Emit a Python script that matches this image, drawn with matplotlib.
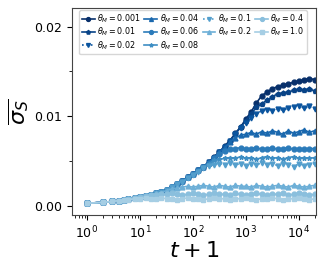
import numpy as np
import matplotlib.pyplot as plt
from matplotlib.ticker import MultipleLocator

# t + 1 sample points
t_plus_1 = [1, 2, 3, 4, 5, 6, 8, 10, 13, 16, 20, 25, 32, 40, 50, 63, 80, 100,
            126, 158, 200, 251, 316, 398, 501, 631, 794, 1000, 1259, 1585, 1995,
            2512, 3162, 3981, 5012, 6310, 7943, 10000, 12589, 15849, 19953]

theta_m = ["0.001", "0.01", "0.02", "0.04", "0.06", "0.08", "0.1", "0.2", "0.4", "1.0"]

# sigma_S values, in units of 1e-4
s_0001 = [3, 4, 5, 6, 7, 8, 9, 10, 11, 12, 14, 16, 18, 21, 25, 28, 32, 36,
          40, 44, 49, 55, 60, 67, 73, 81, 88, 97, 105, 115, 123, 127, 131, 133,
          135, 136, 138, 139, 141, 142, 141]
s_001 = [3, 4, 5, 6, 7, 8, 9, 10, 11, 12, 14, 16, 18, 21, 24, 28, 32, 36,
         40, 44, 48, 54, 60, 66, 73, 80, 88, 95, 103, 110, 114, 118, 122, 125,
         126, 127, 129, 130, 129, 131, 128]
s_002 = [3, 4, 5, 6, 7, 8, 9, 10, 11, 12, 14, 16, 18, 21, 25, 28, 32, 36,
         40, 44, 49, 54, 60, 66, 72, 80, 87, 93, 98, 103, 106, 107, 106, 108,
         107, 109, 110, 112, 109, 111, 108]
s_004 = [3, 4, 5, 6, 7, 8, 9, 10, 11, 12, 14, 16, 18, 21, 24, 28, 32, 36,
         40, 44, 48, 54, 60, 65, 71, 76, 79, 80, 82, 80, 83, 81, 84, 82,
         80, 84, 81, 83, 85, 82, 84]
s_006 = [3, 4, 5, 6, 7, 8, 9, 10, 11, 12, 14, 16, 18, 21, 24, 28, 32, 36,
         40, 44, 48, 53, 58, 61, 63, 64, 65, 63, 64, 65, 63, 64, 65, 63,
         64, 65, 63, 64, 63, 64, 64]
s_008 = [3, 4, 5, 6, 7, 8, 9, 10, 11, 12, 14, 16, 18, 21, 24, 28, 31, 35,
         39, 43, 47, 51, 52, 53, 54, 53, 55, 53, 54, 52, 54, 55, 53, 54,
         52, 54, 55, 53, 54, 53, 54]
s_01 = [3, 4, 5, 6, 7, 8, 9, 10, 11, 12, 14, 16, 18, 21, 24, 27, 31, 35,
        38, 42, 45, 46, 47, 46, 48, 46, 47, 45, 47, 46, 48, 46, 47, 45,
        47, 46, 44, 47, 45, 46, 47]
s_02 = [3, 4, 5, 6, 7, 8, 9, 10, 11, 12, 14, 15, 17, 19, 20, 21, 22, 21,
        22, 23, 22, 21, 23, 22, 21, 23, 22, 22, 21, 23, 22, 21, 22, 23,
        22, 21, 23, 22, 21, 22, 23]
s_04 = [3, 4, 5, 6, 7, 8, 9, 10, 11, 12, 12, 13, 13, 14, 13, 12, 13, 14,
        13, 12, 13, 14, 13, 13, 12, 14, 13, 12, 13, 14, 13, 12, 13, 13,
        14, 12, 13, 14, 13, 12, 13]
s_10 = [3, 4, 5, 6, 7, 7, 8, 8, 9, 8, 8, 9, 8, 8, 7, 8, 9, 8,
        8, 7, 8, 9, 8, 8, 7, 8, 8, 9, 8, 7, 8, 8, 9, 8,
        7, 8, 8, 9, 8, 7, 8]

series = [s_0001, s_001, s_002, s_004, s_006, s_008, s_01, s_02, s_04, s_10]
markers = ['o', 'p', 'v', '^', 'o', '*', 'v', '^', 'o', 's']
styles = ['-', '-', ':', '-', '-', '-', ':', '-', '-', '-']
colors = plt.cm.Blues(np.linspace(1.0, 0.35, len(series)))

fig = plt.figure(figsize=(3.24, 2.7), dpi=100)
ax = fig.add_axes([0.222, 0.204, 0.753, 0.767])

for vals, th, mk, ls, c in zip(series, theta_m, markers, styles, colors):
    ax.plot(t_plus_1, np.array(vals) * 1e-4, marker=mk, linestyle=ls, color=c,
            markersize=3.5, linewidth=1.2, label=r"$\theta_M = $" + th)

ax.set_xscale('log')
ax.set_xlim(0.52, 21000)
ax.set_ylim(-0.001, 0.0221)
ax.yaxis.set_major_locator(MultipleLocator(0.01))
ax.yaxis.set_minor_locator(MultipleLocator(0.005))
ax.tick_params(labelsize=9)
for sp in ax.spines.values():
    sp.set_color('#444444')

ax.set_xlabel(r"$t+1$", fontsize=16, labelpad=0)
ax.set_ylabel(r"$\overline{\sigma_S}$", fontsize=16, labelpad=2)

ax.legend(loc='upper left', ncol=4, fontsize=5.8, handlelength=1.6,
          handletextpad=0.3, columnspacing=0.45, labelspacing=0.1,
          borderpad=0.3, borderaxespad=0.3, markerscale=0.8,
          bbox_to_anchor=(0.02, 1.0))

fig.savefig("out.png", dpi=100)
